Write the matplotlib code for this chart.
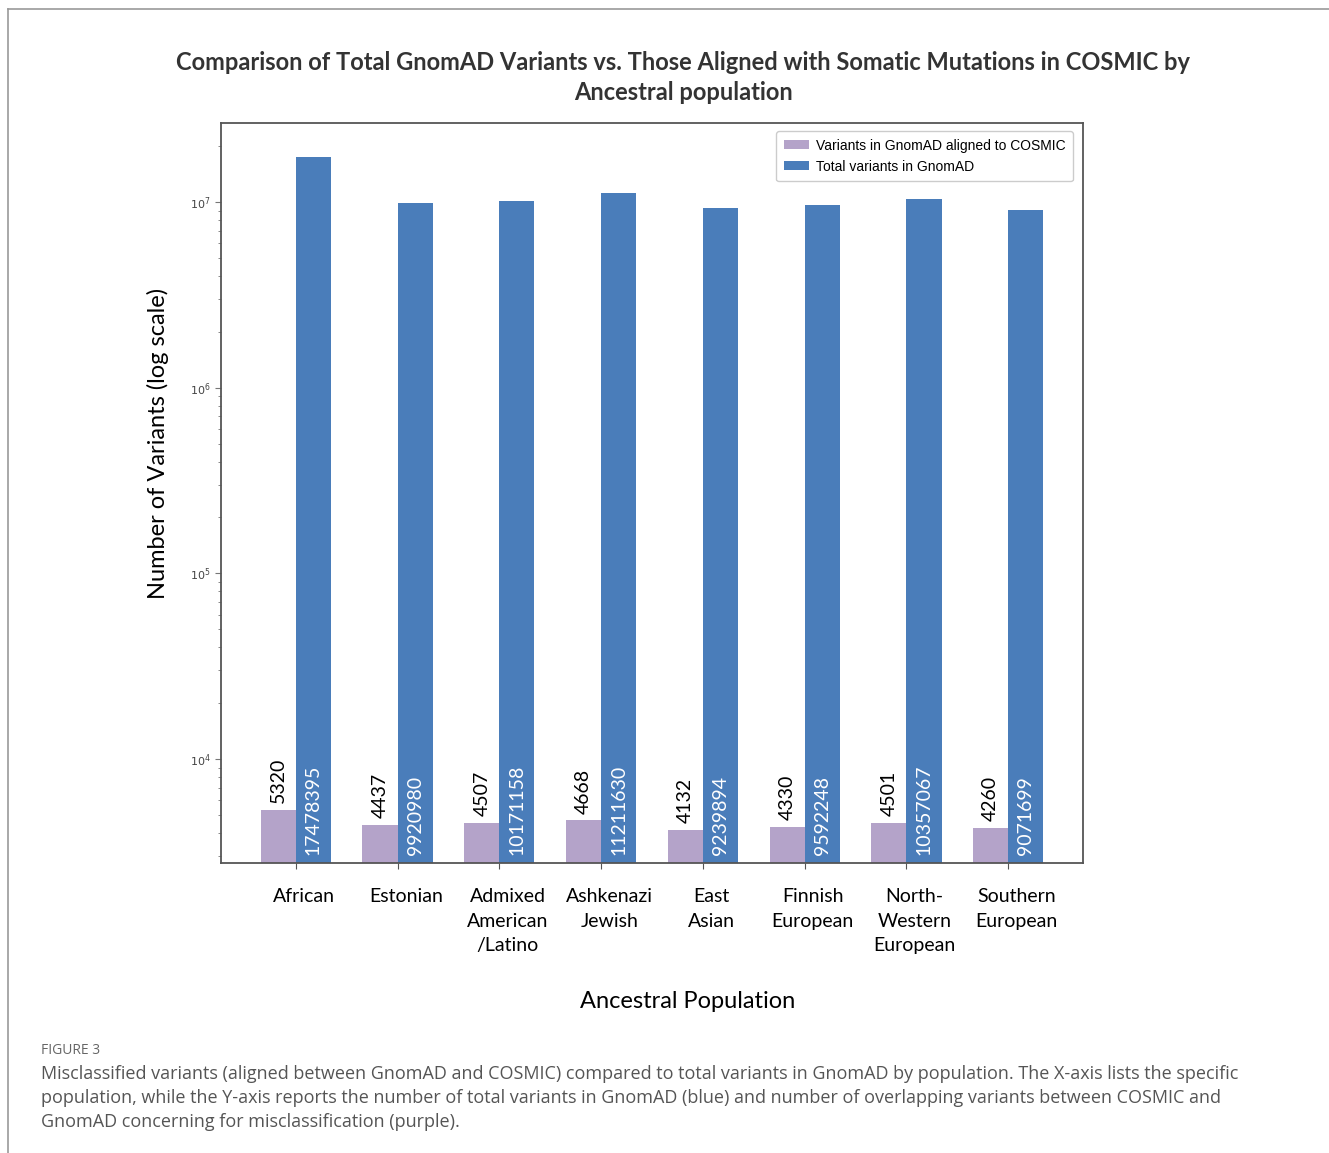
import numpy as np
from matplotlib import pyplot as plt
from matplotlib.lines import Line2D

populations = [
    "African",
    "Estonian",
    "Admixed\nAmerican\n/Latino",
    "Ashkenazi\nJewish",
    "East\nAsian",
    "Finnish\nEuropean",
    "North-\nWestern\nEuropean",
    "Southern\nEuropean",
]
cosmic_aligned = [5320, 4437, 4507, 4668, 4132, 4330, 4501, 4260]
total_gnomad = [17478395, 9920980, 10171158, 11211630, 9239894, 9592248, 10357067, 9071699]

purple = "#b4a3c9"
blue = "#4a7dba"
font = "Lato"

fig = plt.figure(figsize=(13.29, 11.53), dpi=100)
ax = fig.add_axes([0.1663, 0.2515, 0.6486, 0.6418])

x = np.arange(len(populations))
width = 0.345

ax.bar(x - width / 2, cosmic_aligned, width, color=purple, label="Variants in GnomAD aligned to COSMIC")
ax.bar(x + width / 2, total_gnomad, width, color=blue, label="Total variants in GnomAD")

ax.set_yscale("log")
ax.set_ylim(2754, 2.665e7)
ax.set_xlim(-0.735, len(populations) - 1 + 0.735)

# value labels
for xi, v in zip(x, cosmic_aligned):
    ax.annotate(str(v), (xi - width / 2, v), xytext=(0, 5), textcoords="offset points",
                rotation=90, ha="center", va="bottom", fontsize=14, color="black", family=font)
for xi, v in zip(x, total_gnomad):
    ax.annotate(str(v), (xi + width / 2, 0), xycoords=("data", "axes fraction"),
                xytext=(0, 5.5), textcoords="offset points",
                rotation=90, ha="center", va="bottom", fontsize=14, color="white", family=font)

# tick marks at the bar pairs, labels sit a bit to the right (minor ticks)
ax.set_xticks(x)
ax.set_xticklabels([])
ax.set_xticks(x + 0.08, minor=True)
ax.set_xticklabels(populations, minor=True, fontsize=14, family=font, linespacing=1.55)
ax.tick_params(axis="x", which="major", length=4, color="#555555")
ax.tick_params(axis="x", which="minor", length=0, pad=18)
ax.tick_params(axis="y", which="major", labelsize=8, labelcolor="#444444", length=4, color="#777777")
ax.tick_params(axis="y", which="minor", length=2, color="#777777")

for s in ax.spines.values():
    s.set_color("#555555")
    s.set_linewidth(1.3)

ax.set_ylabel("Number of Variants (log scale)", fontsize=17, family=font, va="center")
ax.yaxis.set_label_coords(-0.073, 0.5676)
ax.set_xlabel("Ancestral Population", fontsize=17, family=font, va="center")
ax.xaxis.set_label_coords(0.5418, -0.1865)

leg = ax.legend(loc="upper right", fontsize=10, fancybox=True, framealpha=1,
                edgecolor="#cccccc", borderpad=0.55, handlelength=1.8, handleheight=0.6,
                handletextpad=0.5, borderaxespad=0, bbox_to_anchor=(0.9884, 0.989))
for t in leg.get_texts():
    t.set_family("Liberation Sans")

fig.text(0.514, 1 - 77.5 / 1153, "Comparison of Total GnomAD Variants vs. Those Aligned with Somatic Mutations in COSMIC by\nAncestral population",
         ha="center", va="center", fontsize=17, fontweight="bold", color="#333333",
         family=font, linespacing=1.35)

# figure frame
fig.add_artist(Line2D([0.006, 1.0], [0.9922, 0.9922], transform=fig.transFigure, color="#999999", lw=1.2))
fig.add_artist(Line2D([0.006, 0.006], [0.0, 0.9922], transform=fig.transFigure, color="#999999", lw=1.2))

# caption
fig.text(0.031, 1 - 1050 / 1153, "FIGURE 3", ha="left", va="center", fontsize=10, color="#666666", family="Open Sans")
caption = ("Misclassified variants (aligned between GnomAD and COSMIC) compared to total variants in GnomAD by population. The X-axis lists the specific\n"
           "population, while the Y-axis reports the number of total variants in GnomAD (blue) and number of overlapping variants between COSMIC and\n"
           "GnomAD concerning for misclassification (purple).")
fig.text(0.031, 1 - 1065 / 1153, caption, ha="left", va="top", fontsize=13, color="#555555",
         family="Open Sans", linespacing=1.42)

fig.savefig("out.png", dpi=100)
